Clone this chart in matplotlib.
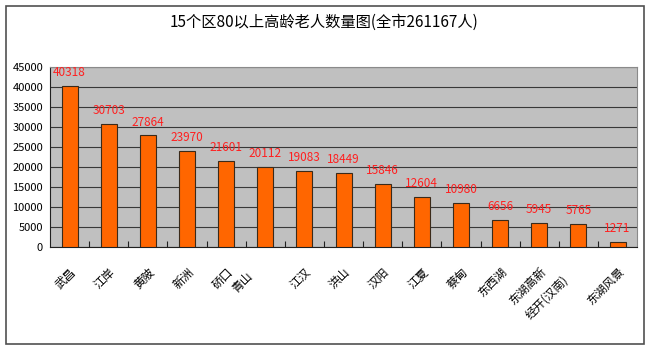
import matplotlib
matplotlib.use("Agg")
import matplotlib.pyplot as plt
from matplotlib.patches import Rectangle
import numpy as np

plt.rcParams['font.family'] = ['Noto Sans CJK SC', 'DejaVu Sans']

# districts and counts of residents aged 80+
districts = ['武昌', '江岸', '黄陂', '新洲', '硚口', '青山', '江汉', '洪山',
             '汉阳', '江夏', '蔡甸', '东西湖', '东湖高新', '经开(汉南)', '东湖风景']
counts = [40318, 30703, 27864, 23970, 21601, 20112, 19083, 18449,
          15846, 12604, 10980, 6656, 5945, 5765, 1271]
y_ticks = list(range(0, 45001, 5000))
title = '15个区80以上高龄老人数量图(全市261167人)'

fig = plt.figure(figsize=(6.48, 3.5), dpi=100)
ax = fig.add_axes([0.0772, 0.294, 0.906, 0.515])

# outer chart frame
fig.patches.append(Rectangle((6 / 648, 6 / 350), 638 / 648, 338 / 350,
                             transform=fig.transFigure, fill=False,
                             edgecolor='#505050', linewidth=1.2))

x = np.arange(len(counts))
ax.set_facecolor('#C0C0C0')
ax.set_axisbelow(True)
ax.grid(axis='y', color='#383838', linewidth=0.8)
ax.bar(x, counts, width=0.41, color='#FF6600', edgecolor='#3a2a1a', linewidth=0.8, zorder=3)

for xi, v in zip(x, counts):
    ax.annotate(str(v), (xi, v), xytext=(0, 5), textcoords='offset points',
                ha='center', va='bottom', color='#FF2020', fontsize=8.5, zorder=4)

ax.set_xlim(-0.5, len(counts) - 0.5)
ax.set_ylim(0, 45000)
ax.set_yticks(y_ticks)
ax.set_yticklabels([str(t) for t in y_ticks], fontsize=8)
ax.tick_params(axis='y', length=0, pad=5)

# boundary ticks between categories, drawn inward
ax.set_xticks(np.arange(0.5, len(counts) - 1, 1.0))
ax.set_xticklabels([])
ax.tick_params(axis='x', direction='in', length=4, width=0.8, color='#202020')

label_shift = {5: (-14, -3), 13: (-12, -6)}
for i, name in enumerate(districts):
    dx, dy = label_shift.get(i, (0, 0))
    ax.annotate(name, (i, 0), xytext=(dx, -13 + dy), textcoords='offset points',
                xycoords=('data', 'axes fraction'), rotation=45,
                rotation_mode='anchor', ha='right', va='top', fontsize=8.5,
                annotation_clip=False)

for side in ['top', 'right']:
    ax.spines[side].set_color('#8a8a8a')
ax.spines['left'].set_color('#202020')
ax.spines['bottom'].set_color('#202020')

fig.text(0.5, 0.935, title, ha='center', va='center', fontsize=11)

fig.savefig('out.png', dpi=100)
